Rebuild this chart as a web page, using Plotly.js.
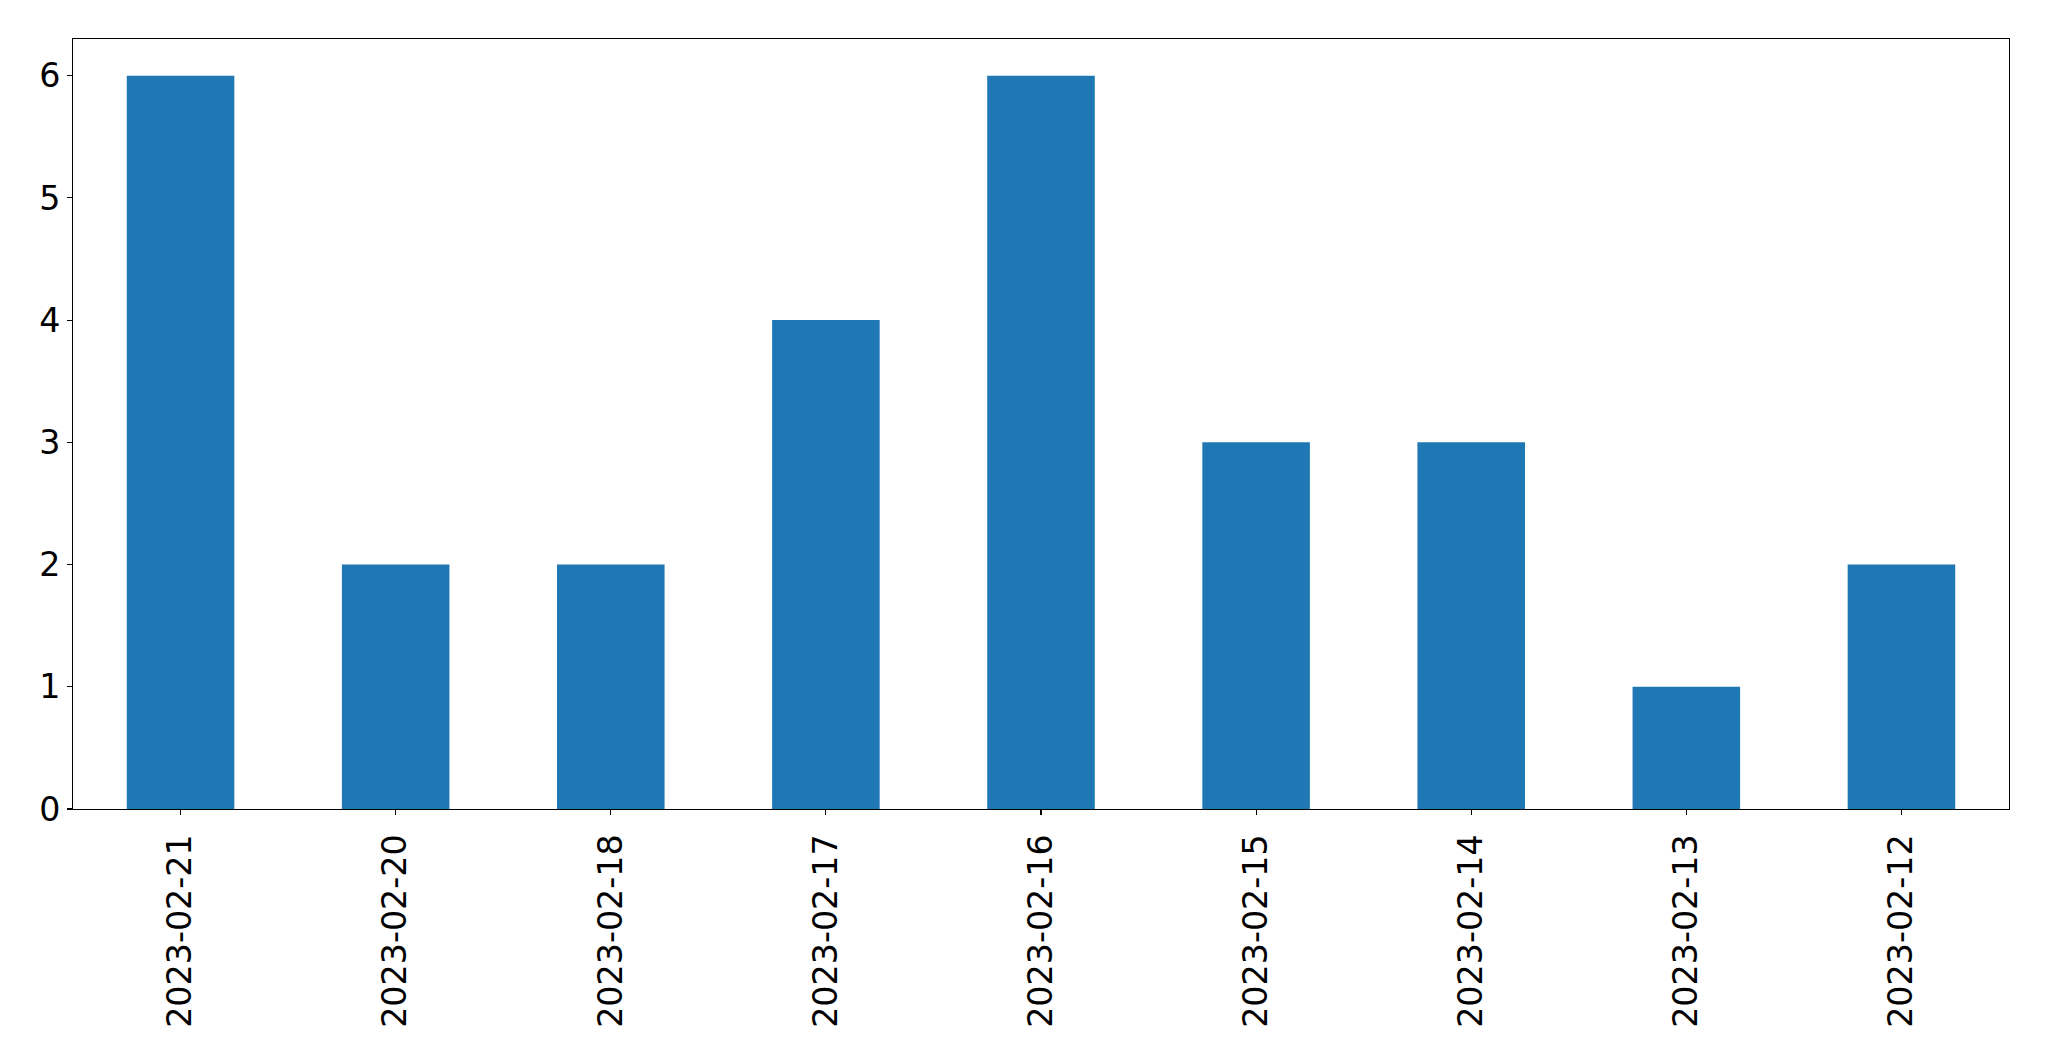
<!DOCTYPE html>
<html>
<head>
<meta charset="utf-8">
<script src="https://cdn.plot.ly/plotly-3.0.1.min.js"></script>
<style>html,body{margin:0;padding:0;background:#fff;}#chart{width:2049px;height:1061px;}</style>
</head>
<body>
<div id="chart"></div>
<script>
const dates = ["2023-02-21","2023-02-20","2023-02-18","2023-02-17","2023-02-16","2023-02-15","2023-02-14","2023-02-13","2023-02-12"];
const counts = [6,2,2,4,6,3,3,1,2];
const yTicks = [0,1,2,3,4,5,6];

const trace = {
  type: 'bar',
  x: dates,
  y: counts,
  width: 0.5,
  marker: {color: '#1f77b4', line: {width: 0}},
  hoverinfo: 'x+y'
};

const layout = {
  width: 2049, height: 1061,
  margin: {l: 72.7, r: 39.7, t: 39.3, b: 251.7, pad: 0},
  paper_bgcolor: '#fff', plot_bgcolor: '#fff',
  showlegend: false,
  font: {family: 'DejaVu Sans', size: 33.3, color: '#000'},
  xaxis: {
    type: 'category',
    range: [-0.5, 8.5],
    tickangle: -90,
    ticks: 'outside', ticklen: 4.9, tickwidth: 1.1, tickcolor: '#000',
    showline: true, linecolor: '#000', linewidth: 1.1, mirror: true,
    showgrid: false, zeroline: false,
    ticklabelstandoff: 6,
    tickfont: {family: 'DejaVu Sans', size: 33.3, color: '#000'}
  },
  yaxis: {
    range: [0, 6.3],
    tickvals: yTicks,
    ticktext: yTicks.map(String),
    ticks: 'outside', ticklen: 4.9, tickwidth: 1.1, tickcolor: '#000',
    showline: true, linecolor: '#000', linewidth: 1.1, mirror: true,
    showgrid: false, zeroline: false,
    tickfont: {family: 'DejaVu Sans', size: 33.3, color: '#000'}
  }
};

Plotly.newPlot('chart', [trace], layout, {staticPlot: true, displayModeBar: false});
</script>
</body>
</html>
